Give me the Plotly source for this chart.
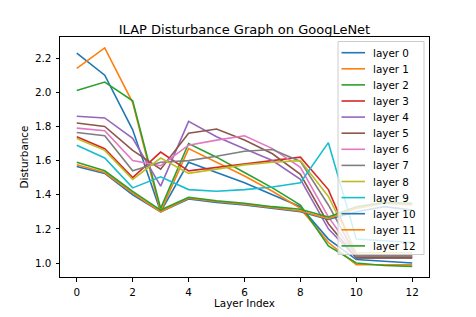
import plotly.graph_objects as go

layer_index = list(range(13))
layer_names = [f"layer {i}" for i in range(13)]

layer_0 = [2.23, 2.10, 1.78, 1.30, 1.59, 1.53, 1.47, 1.40, 1.33, 1.14, 1.02, 1.01, 1.00]
layer_1 = [2.14, 2.26, 1.94, 1.30, 1.67, 1.59, 1.51, 1.42, 1.32, 1.12, 0.99, 0.99, 0.99]
layer_2 = [2.01, 2.06, 1.95, 1.32, 1.70, 1.62, 1.53, 1.44, 1.34, 1.10, 1.00, 0.985, 0.98]
layer_3 = [1.74, 1.67, 1.50, 1.65, 1.54, 1.56, 1.58, 1.60, 1.62, 1.43, 1.05, 1.04, 1.04]
layer_4 = [1.86, 1.85, 1.73, 1.45, 1.83, 1.74, 1.67, 1.60, 1.49, 1.20, 1.03, 1.03, 1.03]
layer_5 = [1.82, 1.80, 1.66, 1.55, 1.76, 1.785, 1.72, 1.64, 1.52, 1.23, 1.03, 1.03, 1.03]
layer_6 = [1.79, 1.775, 1.60, 1.57, 1.69, 1.72, 1.745, 1.67, 1.56, 1.27, 1.04, 1.04, 1.04]
layer_7 = [1.765, 1.745, 1.54, 1.59, 1.60, 1.625, 1.655, 1.665, 1.595, 1.34, 1.04, 1.04, 1.04]
layer_8 = [1.73, 1.66, 1.49, 1.615, 1.525, 1.55, 1.575, 1.59, 1.60, 1.39, 1.06, 1.06, 1.06]
layer_9 = [1.69, 1.615, 1.44, 1.505, 1.43, 1.42, 1.43, 1.445, 1.47, 1.705, 1.14, 1.13, 1.12]
layer_10 = [1.565, 1.525, 1.40, 1.30, 1.375, 1.355, 1.34, 1.32, 1.30, 1.255, 1.30, 1.33, 1.31]
layer_11 = [1.575, 1.53, 1.41, 1.30, 1.38, 1.36, 1.345, 1.325, 1.305, 1.26, 1.32, 1.35, 1.34]
layer_12 = [1.59, 1.54, 1.42, 1.31, 1.385, 1.365, 1.35, 1.33, 1.315, 1.27, 1.33, 1.355, 1.35]

series = [layer_0, layer_1, layer_2, layer_3, layer_4, layer_5, layer_6,
          layer_7, layer_8, layer_9, layer_10, layer_11, layer_12]

x_ticks = [0, 2, 4, 6, 8, 10, 12]
y_ticks = [1.0, 1.2, 1.4, 1.6, 1.8, 2.0, 2.2]

colors = ["#1f77b4", "#ff7f0e", "#2ca02c", "#d62728", "#9467bd", "#8c564b",
          "#e377c2", "#7f7f7f", "#bcbd22", "#17becf", "#1f77b4", "#ff7f0e", "#2ca02c"]

FONT = "DejaVu Sans"
OFF = 8  # default body margin of the html page
W, H = 476 - 2 * OFF, 317 - 2 * OFF
L, R, T, B = 60 - OFF, 429 - OFF, 37 - OFF, 277 - OFF  # plot area in figure pixels

fig = go.Figure()
for name, vals, c in zip(layer_names, series, colors):
    fig.add_trace(go.Scatter(x=layer_index, y=vals, mode="lines", name=name,
                             line=dict(color=c, width=1.6), showlegend=False))

def px2x(px):
    return (px - OFF - L) / (R - L)

def py2y(py):
    return (B - (py - OFF)) / (B - T)

# manual matplotlib-style legend (page pixel positions)
shapes = [dict(type="rect", xref="paper", yref="paper",
               x0=px2x(338), x1=px2x(424), y0=py2y(254.5), y1=py2y(41.5),
               fillcolor="rgba(255,255,255,0.8)", line=dict(color="#cccccc", width=1),
               layer="above")]
annotations = []
for i, (name, c) in enumerate(zip(layer_names, colors)):
    yc = 52.7 + i * 16.1
    shapes.append(dict(type="line", xref="paper", yref="paper",
                       x0=px2x(341.5), x1=px2x(365), y0=py2y(yc), y1=py2y(yc),
                       line=dict(color=c, width=1.6), layer="above"))
    annotations.append(dict(text=name, xref="paper", yref="paper",
                            x=px2x(371), y=py2y(yc), xanchor="left", yanchor="middle",
                            showarrow=False, font=dict(family=FONT, size=10.4, color="#000")))

fig.update_layout(
    width=W, height=H,
    margin=dict(l=L, r=W - R, t=T, b=H - B, autoexpand=False),
    paper_bgcolor="white", plot_bgcolor="white",
    font=dict(family=FONT, size=10.4, color="#000"),
    title=dict(text="ILAP Disturbance Graph on GoogLeNet", x=0.5, xref="paper",
               y=1 - (29 - OFF) / H, yref="container", xanchor="center", yanchor="middle",
               font=dict(family=FONT, size=13, color="#000")),
    shapes=shapes, annotations=annotations,
)
fig.update_xaxes(range=[-0.6, 12.6], tickvals=x_ticks, ticktext=[str(v) for v in x_ticks],
                 showgrid=False, zeroline=False, showline=True, linecolor="#000", linewidth=1,
                 mirror=True, ticks="outside", ticklen=3.5, tickwidth=0.8, tickcolor="#000",
                 ticklabelstandoff=2,
                 title=dict(text="Layer Index", standoff=4, font=dict(size=10.4)))
fig.update_yaxes(range=[0.918, 2.324], tickvals=y_ticks, ticktext=[f"{v:.1f}" for v in y_ticks],
                 showgrid=False, zeroline=False, showline=True, linecolor="#000", linewidth=1,
                 mirror=True, ticks="outside", ticklen=3.5, tickwidth=0.8, tickcolor="#000",
                 ticklabelstandoff=2,
                 title=dict(text="Disturbance", standoff=4, font=dict(size=10.4)))

fig.write_html("out.html")
